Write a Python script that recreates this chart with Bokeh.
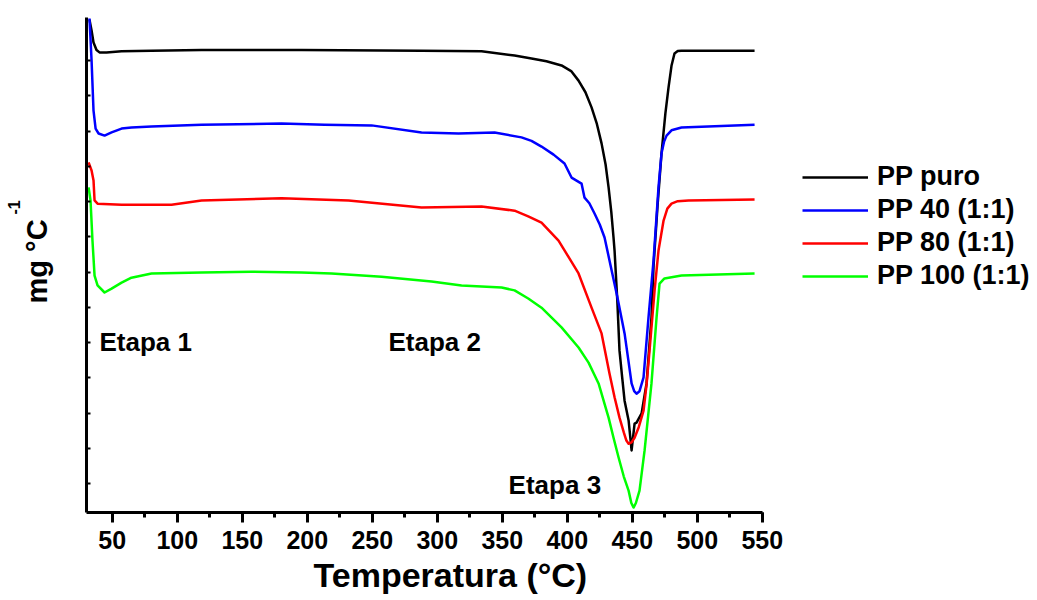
from bokeh.plotting import figure
from bokeh.layouts import row
from bokeh.models import (Range1d, SingleIntervalTicker, FixedTicker, Label,
                          Legend, LegendItem, Title, CustomLabelingPolicy)
from bokeh.embed import file_html
from bokeh.resources import INLINE

# DTG curves (derivative of mass loss, arbitrary offset units) vs temperature
temp_puro = [32.5, 34.1, 35.6, 37.9, 40.2, 45.6, 57.2, 80.2, 118.7, 195.6, 287.9,
             334.1, 359.5, 372.5, 384.0, 395.6, 403.0, 408.7, 414.0, 418.7, 422.8,
             426.4, 429.5, 431.8, 433.9, 435.6, 436.4, 438.5, 440.2, 442.3, 444.1,
             447.2, 449.5, 451.8, 453.3, 457.2, 461.0, 464.8, 466.4, 469.5, 472.5,
             475.5, 477.9, 480.2, 482.5, 485.0, 487.9, 544.1]
dtg_puro = [13.16, 12.85, 12.51, 12.30, 12.23, 12.23, 12.26, 12.28, 12.30, 12.30, 12.28,
            12.26, 12.14, 12.06, 11.98, 11.86, 11.70, 11.43, 11.10, 10.67, 10.20,
            9.65, 9.05, 8.40, 7.70, 6.98, 6.61, 5.20, 3.77, 3.00, 2.35,
            1.79, 0.94, 1.70, 1.73, 1.99, 2.84, 4.71, 6.18, 7.90, 9.36,
            10.50, 11.23, 11.85, 12.20, 12.27, 12.28, 12.28]

temp_pp40 = [32.5, 34.1, 35.6, 37.2, 39.5, 44.1, 49.5, 57.2, 64.8, 80.2, 118.7, 180.2,
             213.3, 249.5, 287.9, 316.4, 344.1, 364.8, 372.5, 380.2, 389.5, 397.9,
             403.3, 411.0, 413.3, 417.0, 421.0, 425.0, 428.7, 432.5, 438.5, 444.1,
             447.0, 449.5, 451.5, 453.3, 455.6, 458.7, 462.5, 466.4, 470.2, 472.5,
             474.5, 476.4, 480.2, 487.9, 544.1]
dtg_pp40 = [13.19, 12.00, 10.58, 10.07, 9.93, 9.87, 9.96, 10.07, 10.10, 10.13, 10.18, 10.21,
            10.18, 10.16, 9.96, 9.93, 9.96, 9.82, 9.72, 9.56, 9.33, 9.08,
            8.68, 8.51, 8.11, 7.95, 7.66, 7.35, 6.98, 6.33, 5.30, 4.26,
            3.50, 2.84, 2.62, 2.55, 2.62, 3.01, 4.71, 6.33, 8.40, 9.36,
            9.70, 9.87, 10.02, 10.10, 10.18]

temp_pp80 = [31.8, 34.1, 35.6, 36.4, 38.7, 57.2, 95.6, 118.7, 180.2, 231.8, 287.9,
             334.1, 359.5, 370.0, 380.2, 393.3, 401.8, 408.7, 418.7, 426.4, 432.5,
             436.4, 440.2, 443.5, 445.5, 447.2, 449.5, 451.8, 455.0, 458.7, 461.0,
             463.3, 467.2, 470.2, 474.1, 477.0, 480.2, 485.0, 493.3, 544.1]
dtg_pp80 = [9.11, 8.88, 8.60, 8.03, 7.94, 7.91, 7.91, 8.03, 8.09, 8.03, 7.83,
            7.86, 7.74, 7.58, 7.40, 6.89, 6.38, 5.96, 4.99, 4.26, 3.12,
            2.45, 1.87, 1.45, 1.22, 1.13, 1.17, 1.30, 1.60, 2.07, 2.80,
            3.77, 5.48, 6.61, 7.46, 7.80, 7.94, 8.01, 8.03, 8.06]

temp_pp100 = [31.8, 33.3, 34.8, 36.4, 38.7, 44.1, 49.5, 57.2, 64.8, 80.2, 118.7, 157.2,
              195.6, 218.7, 257.2, 295.6, 318.7, 349.5, 359.5, 370.0, 380.2, 395.6,
              408.7, 416.4, 424.1, 431.8, 435.6, 439.5, 443.5, 447.2, 449.3, 451.0,
              452.8, 455.6, 459.5, 464.8, 468.7, 471.0, 474.8, 487.9, 544.1]
dtg_pp100 = [8.40, 8.03, 6.89, 5.90, 5.62, 5.42, 5.53, 5.70, 5.84, 5.96, 5.99, 6.01,
             5.99, 5.96, 5.87, 5.73, 5.62, 5.56, 5.48, 5.25, 4.99, 4.43,
             3.86, 3.43, 2.84, 1.87, 1.30, 0.74, 0.20, -0.20, -0.55, -0.68,
             -0.55, -0.20, 0.94, 2.84, 4.71, 5.67, 5.82, 5.90, 5.96]

series_names = ["PP puro", "PP 40 (1:1)", "PP 80 (1:1)", "PP 100 (1:1)"]
series_colors = ["#000000", "#0000ff", "#ff0000", "#00ff00"]
series_temp = [temp_puro, temp_pp40, temp_pp80, temp_pp100]
series_dtg = [dtg_puro, dtg_pp40, dtg_pp80, dtg_pp100]

x_tick_interval = 50
y_tick_values = list(range(13))

stage_labels = ["Etapa 1", "Etapa 2", "Etapa 3"]
stage_x = [40.2, 262.5, 354.9]
stage_y = [4.03, 4.03, -0.03]

FONT = "Liberation Sans"

p = figure(width=784, height=600, output_backend="svg", toolbar_location=None,
           x_range=Range1d(30.2, 550.2), y_range=Range1d(-0.82, 13.22),
           min_border_left=85, min_border_right=22, min_border_top=17,
           min_border_bottom=88)
p.outline_line_color = None
p.xgrid.visible = False
p.ygrid.visible = False
p.background_fill_color = "white"
p.border_fill_color = "white"

# bottom axis: outward major/minor ticks, bold labels
xa = p.xaxis[0]
xa.ticker = SingleIntervalTicker(interval=x_tick_interval, num_minor_ticks=2)
xa.axis_line_width = 3
xa.major_tick_line_width = 3
xa.minor_tick_line_width = 3
xa.major_tick_in = 0
xa.major_tick_out = 10
xa.minor_tick_in = 0
xa.minor_tick_out = 5
xa.major_label_text_font = FONT
xa.major_label_text_font_style = "bold"
xa.major_label_text_font_size = "25px"
xa.major_label_text_color = "black"
xa.major_label_standoff = 8

# left axis: short inward ticks, tick labels suppressed
ya = p.yaxis[0]
ya.ticker = FixedTicker(ticks=y_tick_values)
ya.axis_line_width = 3
ya.major_tick_line_width = 2
ya.major_tick_in = 4
ya.major_tick_out = 0
ya.minor_tick_line_color = None
ya.major_label_standoff = 0
ya.major_label_policy = CustomLabelingPolicy(
    code="for (const i of indices) { indices.unset(i) }")

for xs, ys, color in zip(series_temp, series_dtg, series_colors):
    p.line(xs, ys, line_color=color, line_width=2.5, line_join="round")

for txt, sx, sy in zip(stage_labels, stage_x, stage_y):
    p.add_layout(Label(x=sx, y=sy, text=txt, text_font=FONT, text_font_style="bold",
                       text_font_size="26px", text_align="left",
                       text_baseline="middle", text_color="black"))

# axis titles
p.add_layout(Title(text="Temperatura (°C)", align="left", offset=227, standoff=4,
                   text_font=FONT, text_font_style="bold", text_font_size="34px",
                   text_color="black"),
             "below")
p.add_layout(Title(text="mg °C", align="left", offset=209, standoff=37,
                   text_font=FONT, text_font_style="bold", text_font_size="29px",
                   text_color="black"),
             "left")
p.add_layout(Title(text="-1", align="left", offset=298, standoff=-38,
                   text_font=FONT, text_font_style="bold", text_font_size="16px",
                   text_color="black"),
             "left")

# legend panel to the right of the plot; its lines lie outside its own view
lg = figure(width=253, height=600, output_backend="svg", toolbar_location=None,
            x_range=Range1d(0, 1), y_range=Range1d(0, 1),
            min_border_left=0, min_border_right=0, min_border_top=0,
            min_border_bottom=0)
lg.axis.visible = False
lg.grid.visible = False
lg.outline_line_color = None
lg.background_fill_color = "white"
lg.border_fill_color = "white"

items = []
for name, xs, ys, color in zip(series_names, series_temp, series_dtg, series_colors):
    r = lg.line(xs, ys, line_color=color, line_width=2.5)
    items.append(LegendItem(label=name, renderers=[r]))

legend = Legend(items=items, location=(18, 221))
legend.glyph_width = 66
legend.glyph_height = 26
legend.label_height = 26
legend.label_standoff = 9
legend.spacing = 2
legend.padding = 0
legend.margin = 0
legend.border_line_color = None
legend.background_fill_alpha = 0
legend.label_text_font = FONT
legend.label_text_font_style = "bold"
legend.label_text_font_size = "27px"
legend.label_text_color = "black"
legend.label_text_baseline = "middle"
lg.add_layout(legend)

layout = row(p, lg)
open("out.html", "w").write(file_html(layout, INLINE))
